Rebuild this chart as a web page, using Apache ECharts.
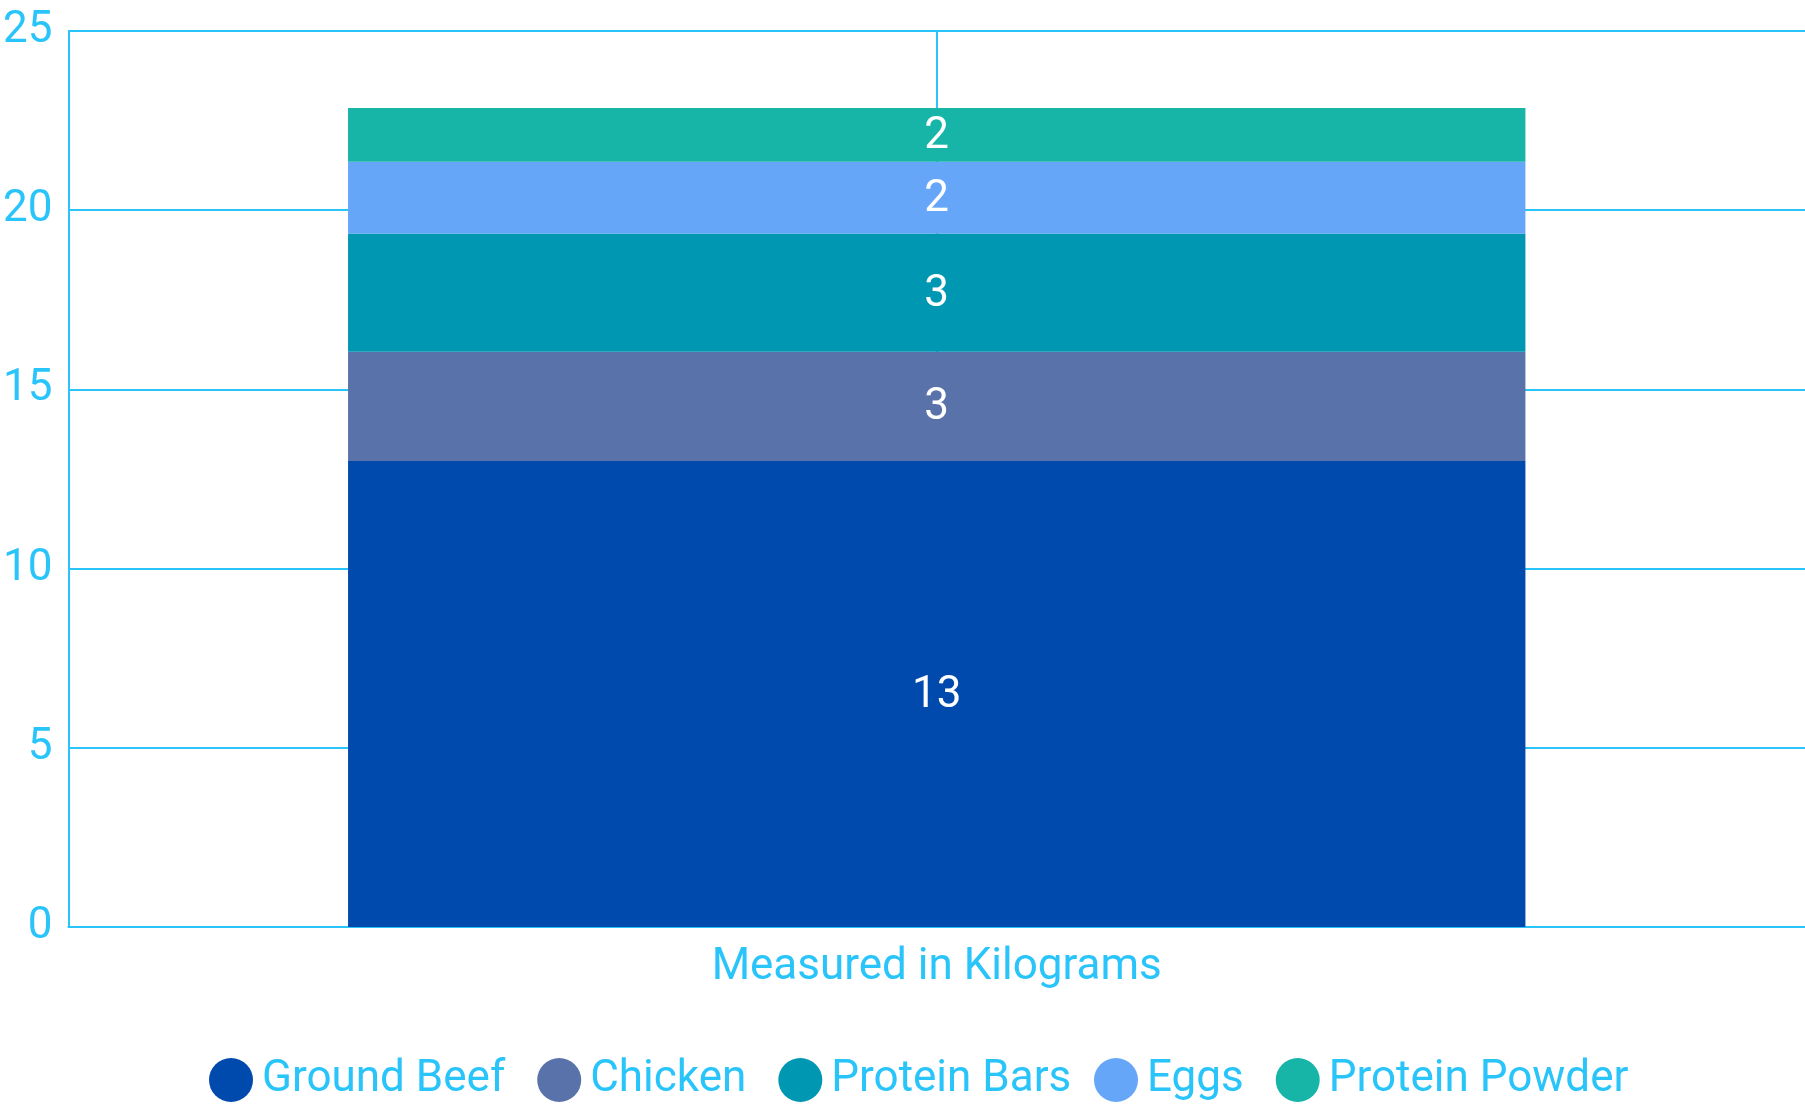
<!DOCTYPE html>
<html>
<head>
<meta charset="utf-8">
<script src="https://cdn.jsdelivr.net/npm/echarts@6/dist/echarts.min.js"></script>
<style>
html,body{margin:0;padding:0;background:#fff;}
#chart{width:1805px;height:1110px;}
</style>
</head>
<body>
<div id="chart"></div>
<script>
const categories = ['Measured in Kilograms'];
const seriesNames = ['Ground Beef', 'Chicken', 'Protein Bars', 'Eggs', 'Protein Powder'];
const groundBeef = [13];
const chicken = [3.05];
const proteinBars = [3.3];
const eggs = [2];
const proteinPowder = [1.5];
const yTicks = [0, 5, 10, 15, 20, 25];

const seriesValues = [groundBeef, chicken, proteinBars, eggs, proteinPowder];
const colors = ['#004aad', '#5a72aa', '#0097b2', '#66a6f9', '#16b5a8'];
const cyan = '#29c4f9';
const font = 'Roboto';

const legendBase = {
  top: 1053,
  icon: 'circle',
  itemWidth: 44,
  itemHeight: 44,
  itemGap: 32,
  textStyle: { color: cyan, fontSize: 44, fontFamily: font, padding: [0, 0, 0, 4] }
};

const chart = echarts.init(document.getElementById('chart'));
chart.setOption({
  animation: false,
  color: colors,
  textStyle: { fontFamily: font },
  grid: { left: 63, right: 0, top: 31, bottom: 183, containLabel: false },
  legend: [
    Object.assign({ data: seriesNames.slice(0, 3), left: 204 }, legendBase),
    Object.assign({ data: seriesNames.slice(3), left: 1089 }, legendBase)
  ],
  xAxis: [
    {
      type: 'category',
      data: categories,
      axisLine: { show: true, lineStyle: { color: cyan, width: 2 } },
      axisTick: { show: false },
      axisLabel: { color: cyan, fontSize: 44, fontFamily: font, margin: 19 },
      splitLine: { show: false }
    },
    {
      type: 'value',
      min: 0, max: 2, interval: 1,
      position: 'top',
      axisLine: { show: false },
      axisTick: { show: false },
      axisLabel: { show: false },
      splitLine: { show: true, showMinLine: false, showMaxLine: false, lineStyle: { color: cyan, width: 2 } }
    }
  ],
  yAxis: {
    type: 'value',
    min: yTicks[0],
    max: yTicks[yTicks.length - 1],
    interval: 5,
    axisLine: { show: true, lineStyle: { color: cyan, width: 2 } },
    axisTick: { show: false },
    axisLabel: { color: cyan, fontSize: 44, fontFamily: font, margin: 16, padding: [0, 0, 6, 0] },
    splitLine: { show: true, lineStyle: { color: cyan, width: 2 } }
  },
  series: seriesNames.map((name, i) => ({
    name: name,
    type: 'bar',
    stack: 'total',
    xAxisIndex: 0,
    barWidth: '67.8%',
    data: seriesValues[i],
    itemStyle: { color: colors[i] },
    label: {
      show: true,
      position: 'inside',
      offset: [0, 2],
      color: '#fff',
      fontSize: 44,
      fontFamily: font,
      formatter: p => String(Math.round(p.value))
    }
  }))
});
</script>
</body>
</html>
